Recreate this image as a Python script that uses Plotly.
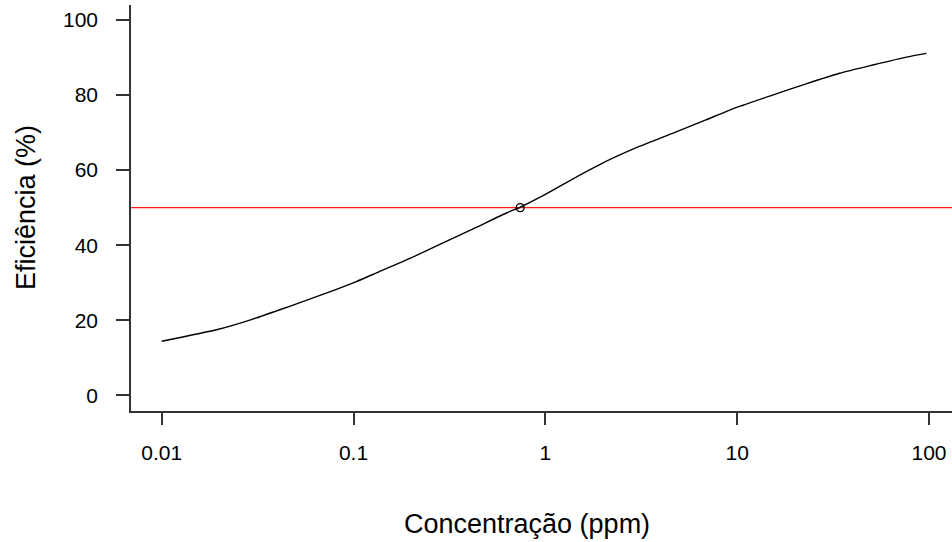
import plotly.graph_objects as go

# Dose-response curve
conc = [0.01, 0.0198, 0.0299, 0.0453, 0.0685, 0.1035, 0.1355, 0.1995, 0.293,
        0.431, 0.635, 0.74, 0.933, 1.387, 2.07, 3.09, 4.6, 6.87, 10.2, 15.3,
        22.9, 34.2, 51.0, 76.2, 97.0]
eff = [14.4, 17.6, 20.3, 23.5, 26.8, 30.3, 32.9, 36.6, 40.6,
       44.6, 48.7, 50.1, 52.7, 57.6, 62.3, 66.3, 69.8, 73.4, 76.9, 80.0,
       83.0, 85.8, 88.0, 90.1, 91.1]

ec50_x = [0.74]
ec50_y = [50]
ref_level = 50

x_tickvals = [0.01, 0.1, 1, 10, 100]
x_ticktext = ["0.01", "0.1", "1", "10", "100"]
y_tickvals = [0, 20, 40, 60, 80, 100]

FONT = "Liberation Sans, Arial, sans-serif"

fig = go.Figure()
fig.add_trace(go.Scatter(x=conc, y=eff, mode="lines",
                         line=dict(color="black", width=1.4, shape="spline",
                                   smoothing=0.6),
                         hoverinfo="skip"))
fig.add_trace(go.Scatter(x=ec50_x, y=ec50_y, mode="markers",
                         marker=dict(symbol="circle-open", size=8,
                                     color="black", line=dict(width=1.3))))
fig.add_shape(type="line", xref="paper", yref="y", x0=0, x1=1,
              y0=ref_level, y1=ref_level,
              line=dict(color="#ff1a1a", width=1.3), layer="below")

fig.update_layout(
    width=952, height=542,
    margin=dict(l=131, r=0, t=5, b=131),
    paper_bgcolor="white", plot_bgcolor="white",
    showlegend=False,
    font=dict(family=FONT, color="black"),
)
fig.update_xaxes(
    type="log", range=[-2.16, 2.12],
    tickvals=x_tickvals, ticktext=x_ticktext,
    showgrid=False, zeroline=False,
    showline=True, linecolor="#333333", linewidth=1.5,
    ticks="outside", ticklen=12, tickwidth=1.5, tickcolor="#333333",
    tickfont=dict(size=21, family=FONT, color="black"),
    ticklabelstandoff=10,
)
fig.update_yaxes(
    range=[-4.2, 104],
    tickvals=y_tickvals,
    showgrid=False, zeroline=False,
    showline=True, linecolor="#333333", linewidth=1.5,
    ticks="outside", ticklen=13, tickwidth=1.5, tickcolor="#333333",
    tickfont=dict(size=21, family=FONT, color="black"),
    ticklabelstandoff=14,
)
fig.add_annotation(text="Concentração (ppm)", xref="paper", yref="paper",
                   x=(527 - 131) / 821, y=-(524 - 411) / 406,
                   showarrow=False, xanchor="center", yanchor="middle",
                   font=dict(size=27, family=FONT, color="black"))
fig.add_annotation(text="Eficiência (%)", xref="paper", yref="paper",
                   x=-(131 - 26) / 821, y=0.5, textangle=-90,
                   showarrow=False, xanchor="center", yanchor="middle",
                   font=dict(size=27, family=FONT, color="black"))

fig.write_html("out.html")
